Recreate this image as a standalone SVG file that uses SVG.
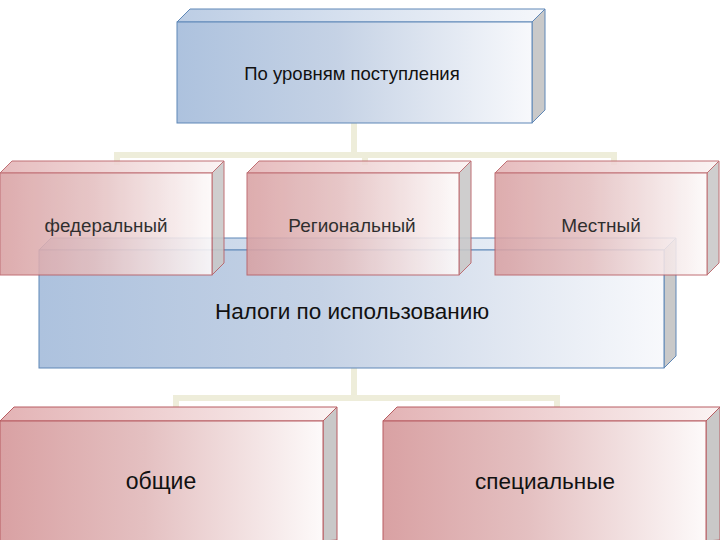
<svg xmlns="http://www.w3.org/2000/svg" width="720" height="540" viewBox="0 0 720 540">
<defs>
<linearGradient id="pink" x1="0" y1="0" x2="1" y2="0">
<stop offset="0" stop-color="#d9a1a3"/>
<stop offset="0.45" stop-color="#e4c0c1"/>
<stop offset="1" stop-color="#fdfafa"/>
</linearGradient>
<linearGradient id="pinkTop" x1="0" y1="0" x2="1" y2="0">
<stop offset="0" stop-color="#e3b3b5"/>
<stop offset="1" stop-color="#fbf3f3"/>
</linearGradient>
<linearGradient id="blue" x1="0" y1="0" x2="1" y2="0">
<stop offset="0" stop-color="#adc2de"/>
<stop offset="0.45" stop-color="#c5d2e5"/>
<stop offset="1" stop-color="#f8f9fc"/>
</linearGradient>
<linearGradient id="blueTop" x1="0" y1="0" x2="1" y2="0">
<stop offset="0" stop-color="#bccde4"/>
<stop offset="1" stop-color="#f5f7fb"/>
</linearGradient>
</defs>
<style>
.pf{fill:url(#pink);stroke:#b85d62;stroke-width:1}
.pt{fill:url(#pinkTop);stroke:#b85d62;stroke-width:1}
.ps{fill:#c9c8c8;stroke:#b85d62;stroke-width:1}
.bf{fill:url(#blue);stroke:#5e87b7;stroke-width:1}
.bt{fill:url(#blueTop);stroke:#5e87b7;stroke-width:1}
.bs{fill:#c9c9c9;stroke:#5e87b7;stroke-width:1}
.pink{opacity:0.88}
.con{fill:none;stroke:#eeedda;stroke-width:6;stroke-linecap:square}
text{font-family:"Liberation Sans","DejaVu Sans",sans-serif;fill:#111;text-anchor:middle}
</style>
<rect width="720" height="540" fill="#ffffff"/>
<g id="connectors">
<path class="con" d="M354,124 V155 M117,155 H614 M117,155 V162 M365,155 V162 M614,155 V162"/>
<path class="con" d="M354,369 V398 M176,398 H557 M176,398 V408 M557,398 V408"/>
</g>
<g id="top">
<polygon class="bt" points="177,22 190,9 545,9 532,22"/>
<polygon class="bs" points="532,22 545,9 545,110 532,123"/>
<rect class="bf" x="177" y="22" width="355" height="101"/>
<text x="352" y="80" font-size="18.5">По уровням поступления</text>
</g>
<g id="usage">
<polygon class="bt" points="39,250 51,238 676,238 664,250"/>
<polygon class="bs" points="664,250 676,238 676,356 664,368"/>
<rect class="bf" x="39" y="250" width="625" height="118"/>
<text x="352" y="319" font-size="22.5">Налоги по использованию</text>
</g>
<g id="federal" class="pink">
<polygon class="pt" points="0,173 12,161 224,161 212,173"/>
<polygon class="ps" points="212,173 224,161 224,263 212,275"/>
<rect class="pf" x="0" y="173" width="212" height="102"/>
<text x="106" y="232" font-size="18.8">федеральный</text>
</g>
<g id="regional" class="pink">
<polygon class="pt" points="247,173 259,161 471,161 459,173"/>
<polygon class="ps" points="459,173 471,161 471,263 459,275"/>
<rect class="pf" x="247" y="173" width="212" height="102"/>
<text x="352" y="232" font-size="19">Региональный</text>
</g>
<g id="local" class="pink">
<polygon class="pt" points="495,173 507,161 719,161 707,173"/>
<polygon class="ps" points="707,173 719,161 719,263 707,275"/>
<rect class="pf" x="495" y="173" width="212" height="102"/>
<text x="601" y="232" font-size="19">Местный</text>
</g>
<g id="general">
<polygon class="pt" points="0,421 14,407 337,407 323,421"/>
<polygon class="ps" points="323,421 337,407 337,540 323,541"/>
<rect class="pf" x="0" y="421" width="323" height="125"/>
<text x="161" y="489" font-size="23">общие</text>
</g>
<g id="special">
<polygon class="pt" points="383,421 397,407 720,407 706,421"/>
<polygon class="ps" points="706,421 720,407 720,540 706,541"/>
<rect class="pf" x="383" y="421" width="323" height="125"/>
<text x="545" y="489" font-size="22.5">специальные</text>
</g>
</svg>
